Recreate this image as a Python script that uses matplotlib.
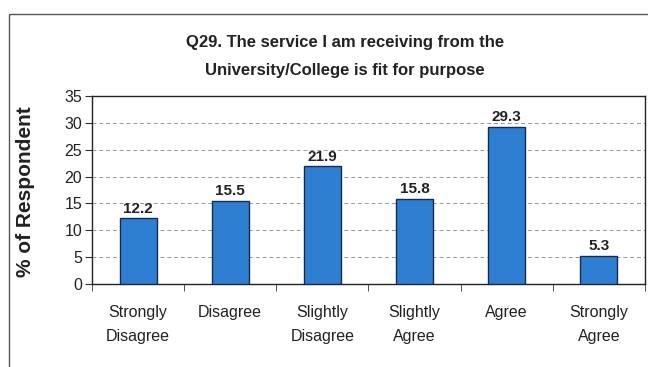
import matplotlib
matplotlib.use("Agg")
import matplotlib.pyplot as plt
from matplotlib.patches import Rectangle
import numpy as np

plt.rcParams['font.family'] = ['Liberation Sans', 'DejaVu Sans']

categories = ["Strongly\nDisagree", "Disagree", "Slightly\nDisagree",
              "Slightly\nAgree", "Agree", "Strongly\nAgree"]
values = [12.2, 15.5, 21.9, 15.8, 29.3, 5.3]
yticks = [0, 5, 10, 15, 20, 25, 30, 35]

fig = plt.figure(figsize=(6.48, 3.67), dpi=100)
W, H = 648, 367

# outer chart frame
fig.patches.append(Rectangle((8.5 / W, -0.1), 1.2, 1.1 - 14 / H,
                             transform=fig.transFigure, fill=False,
                             edgecolor='#555555', linewidth=1.0))

ax = fig.add_axes([92 / W, 1 - 284 / H, (645 - 92) / W, (284 - 96) / H])

x = np.arange(len(categories))
ax.bar(x, values, width=0.4, color='#2e7fd2', edgecolor='#1a2a4a',
       linewidth=1.0, zorder=3)
for xi, v in zip(x, values):
    ax.text(xi, v + 0.5, f"{v:.1f}", ha='center', va='bottom',
            fontsize=11, fontweight='bold', color='#222222')

ax.set_xlim(-0.5, len(categories) - 0.5)
ax.set_ylim(0, 35)
ax.set_yticks(yticks)
ax.set_yticklabels([str(t) for t in yticks], fontsize=11.5, color='#222222')
ax.yaxis.grid(True, linestyle=(0, (4, 3)), color='#999999', linewidth=0.7, zorder=0)
ax.set_axisbelow(True)

ax.set_xticks(x)
ax.set_xticklabels(categories, fontsize=11.5, color='#222222', linespacing=1.8)
ax.tick_params(axis='x', length=0, pad=15)
ax.set_xticks(np.arange(-0.5, len(categories)), minor=True)
ax.tick_params(axis='x', which='minor', length=5, direction='out', color='#333333')
ax.tick_params(axis='y', length=5, direction='out', color='#333333', pad=2)

for s in ax.spines.values():
    s.set_color('#222222')
    s.set_linewidth(1.0)

ax.set_ylabel("% of Respondent", fontsize=15, fontweight='bold', color='#222222')
ax.yaxis.set_label_coords(-(92 - 26) / (645 - 92), (284 - 192) / (284 - 96))
ax.yaxis.label.set_va('center')

fig.text(345 / W, 1 - 47 / H, "Q29. The service I am receiving from the",
         ha='center', va='baseline', fontsize=12, fontweight='bold', color='#222222')
fig.text(345 / W, 1 - 75 / H, "University/College is fit for purpose",
         ha='center', va='baseline', fontsize=12, fontweight='bold', color='#222222')

fig.savefig("out.png", dpi=100)
